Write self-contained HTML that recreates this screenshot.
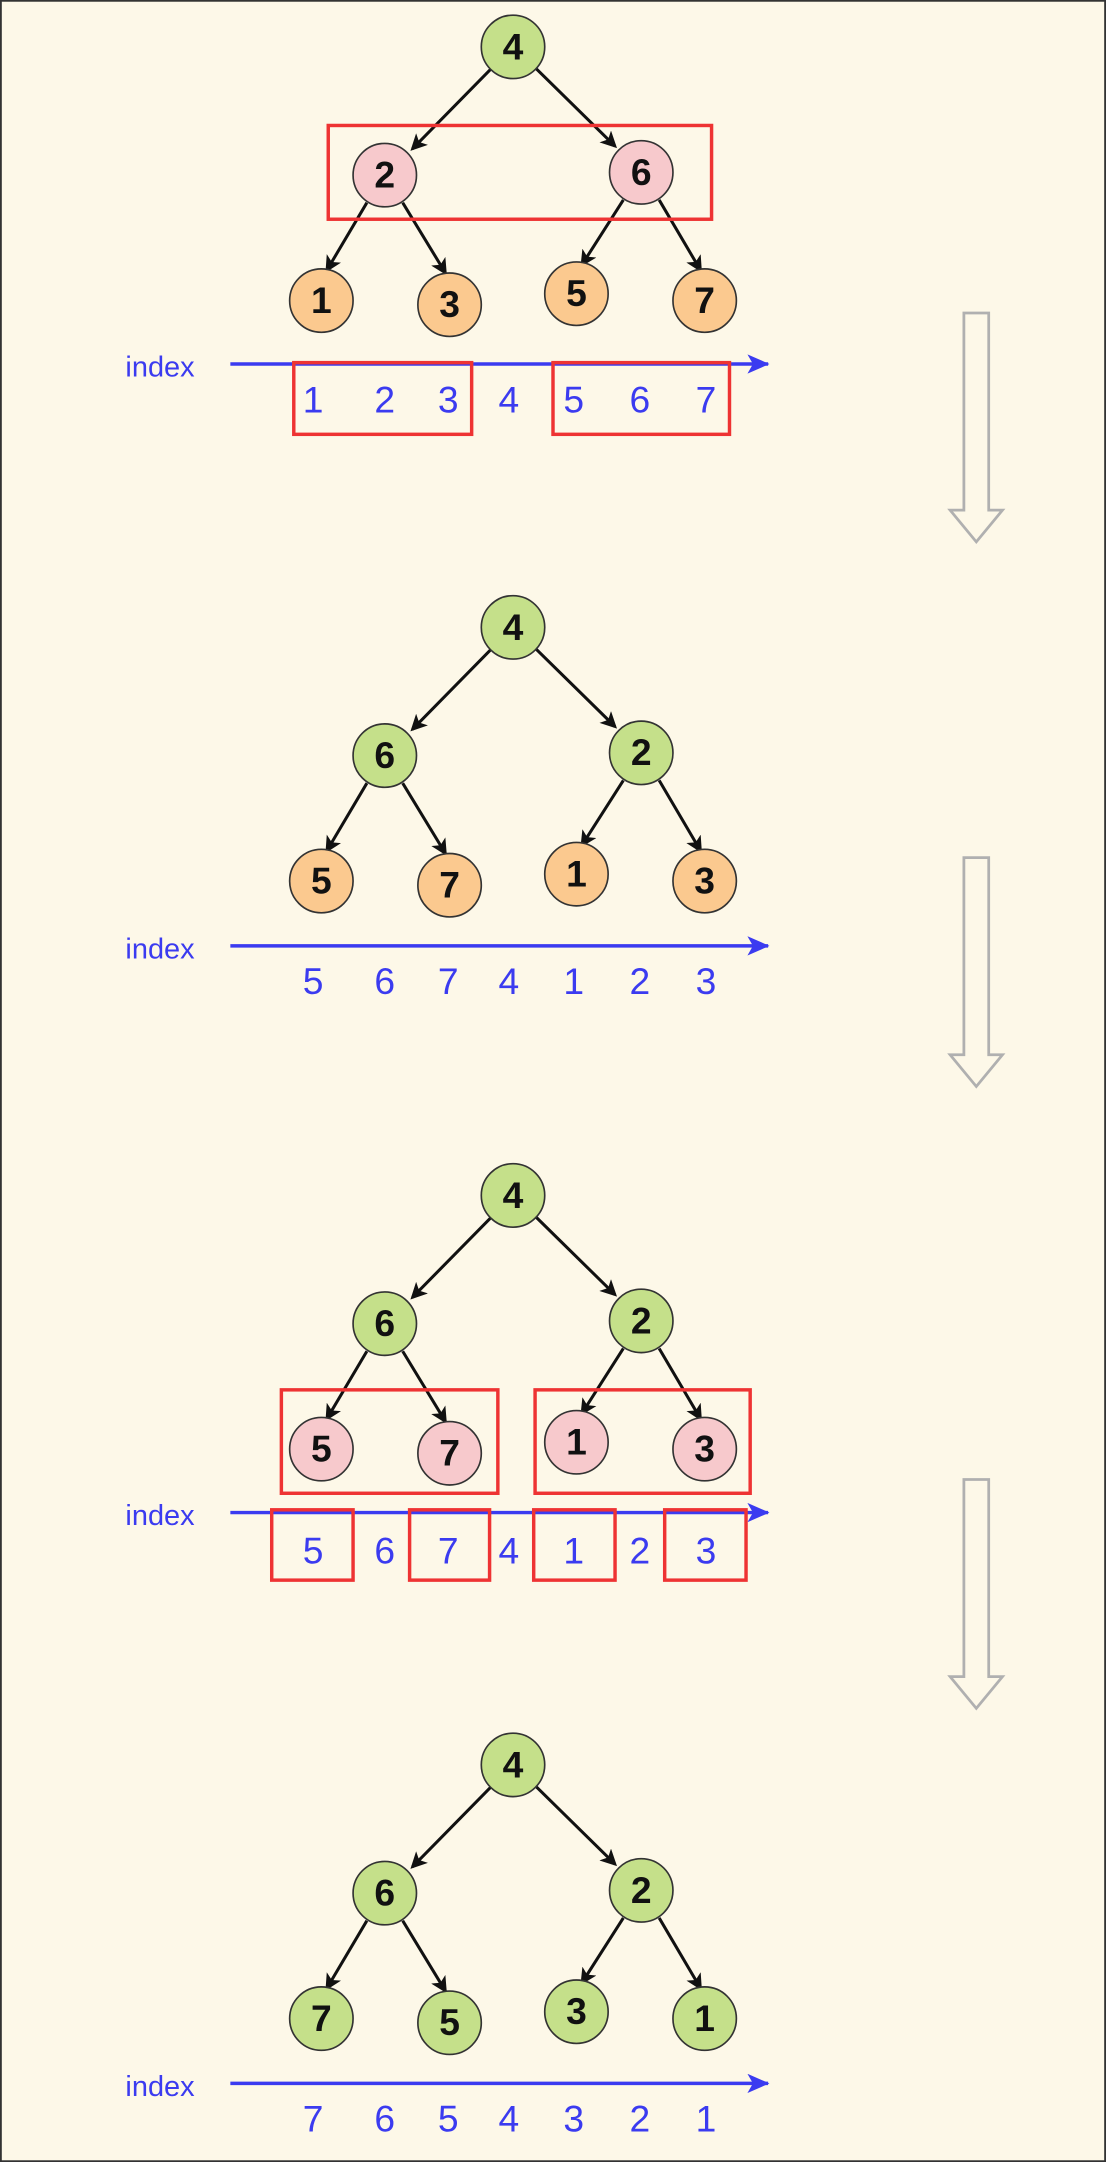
<!DOCTYPE html>
<html><head><meta charset="utf-8"><style>
html,body{margin:0;padding:0;background:#fdf8e8;}
svg{display:block;}
text{font-family:"Liberation Sans",sans-serif;}
</style></head><body>
<svg width="1106" height="2162" viewBox="0 0 802 1568" xmlns="http://www.w3.org/2000/svg">
<defs>
<marker id="ah" markerWidth="12" markerHeight="12" refX="10" refY="6" orient="auto" markerUnits="userSpaceOnUse"><path d="M0,0 L12,6 L0,12 L3,6 Z" fill="#111"/></marker>
<marker id="bh" markerWidth="16" markerHeight="14" refX="15" refY="7" orient="auto" markerUnits="userSpaceOnUse"><path d="M0,0 L16,7 L0,14 L4,7 Z" fill="#3b3bf0"/></marker>
<g id="edges" stroke="#111" stroke-width="2.2" fill="none">
<line x1="356" y1="50" x2="299" y2="108" marker-end="url(#ah)"/>
<line x1="389" y1="50" x2="446" y2="106" marker-end="url(#ah)"/>
<line x1="266" y1="147" x2="237" y2="196" marker-end="url(#ah)"/>
<line x1="292" y1="147" x2="323" y2="198" marker-end="url(#ah)"/>
<line x1="452" y1="145" x2="422" y2="192" marker-end="url(#ah)"/>
<line x1="478" y1="145" x2="508" y2="196" marker-end="url(#ah)"/>
</g>
<g id="darr" fill="none" stroke="#b0b0b0" stroke-width="2">
<path d="M699,0 L717,0 L717,143 L727,143 L708,166 L689,143 L699,143 Z"/>
</g>
</defs>
<rect x="0.5" y="0.5" width="801" height="1567" fill="#fdf8e8" stroke="#333" stroke-width="1.5"/>

<!-- Section 1 -->
<g>
<use href="#edges"/>
<g stroke="#333" stroke-width="1.2">
<circle cx="372" cy="34" r="23" fill="#c5e08a"/>
<circle cx="279" cy="127" r="23" fill="#f7c9cc"/>
<circle cx="465" cy="125" r="23" fill="#f7c9cc"/>
<circle cx="233" cy="218" r="23" fill="#fbc98f"/>
<circle cx="326" cy="221" r="23" fill="#fbc98f"/>
<circle cx="418" cy="213" r="23" fill="#fbc98f"/>
<circle cx="511" cy="218" r="23" fill="#fbc98f"/>
</g>
<g font-size="27" font-weight="bold" fill="#111" text-anchor="middle">
<text x="372" y="43">4</text><text x="279" y="136">2</text><text x="465" y="134">6</text>
<text x="233" y="227">1</text><text x="326" y="230">3</text><text x="418" y="222">5</text><text x="511" y="227">7</text>
</g>
<rect x="238" y="91" width="278" height="68" fill="none" stroke="#ee3333" stroke-width="2.5"/>
<line x1="167" y1="264" x2="557" y2="264" stroke="#3b3bf0" stroke-width="2.5" marker-end="url(#bh)"/>
<text x="116" y="273" font-size="21" fill="#3b3bf0" text-anchor="middle">index</text>
<g font-size="27" fill="#3b3bf0" text-anchor="middle">
<text x="227" y="299">1</text><text x="279" y="299">2</text><text x="325" y="299">3</text><text x="369" y="299">4</text><text x="416" y="299">5</text><text x="464" y="299">6</text><text x="512" y="299">7</text>
</g>
<rect x="213" y="263" width="129" height="52" fill="none" stroke="#ee3333" stroke-width="2.5"/>
<rect x="401" y="263" width="128" height="52" fill="none" stroke="#ee3333" stroke-width="2.5"/>
</g>
<use href="#darr" x="0" y="227"/>

<!-- Section 2 -->
<g transform="translate(0,421)">
<use href="#edges"/>
<g stroke="#333" stroke-width="1.2">
<circle cx="372" cy="34" r="23" fill="#c5e08a"/>
<circle cx="279" cy="127" r="23" fill="#c5e08a"/>
<circle cx="465" cy="125" r="23" fill="#c5e08a"/>
<circle cx="233" cy="218" r="23" fill="#fbc98f"/>
<circle cx="326" cy="221" r="23" fill="#fbc98f"/>
<circle cx="418" cy="213" r="23" fill="#fbc98f"/>
<circle cx="511" cy="218" r="23" fill="#fbc98f"/>
</g>
<g font-size="27" font-weight="bold" fill="#111" text-anchor="middle">
<text x="372" y="43">4</text><text x="279" y="136">6</text><text x="465" y="134">2</text>
<text x="233" y="227">5</text><text x="326" y="230">7</text><text x="418" y="222">1</text><text x="511" y="227">3</text>
</g>
<line x1="167" y1="265" x2="557" y2="265" stroke="#3b3bf0" stroke-width="2.5" marker-end="url(#bh)"/>
<text x="116" y="274" font-size="21" fill="#3b3bf0" text-anchor="middle">index</text>
<g font-size="27" fill="#3b3bf0" text-anchor="middle">
<text x="227" y="300">5</text><text x="279" y="300">6</text><text x="325" y="300">7</text><text x="369" y="300">4</text><text x="416" y="300">1</text><text x="464" y="300">2</text><text x="512" y="300">3</text>
</g>
</g>
<use href="#darr" x="0" y="622"/>

<!-- Section 3 -->
<g transform="translate(0,833)">
<use href="#edges"/>
<g stroke="#333" stroke-width="1.2">
<circle cx="372" cy="34" r="23" fill="#c5e08a"/>
<circle cx="279" cy="127" r="23" fill="#c5e08a"/>
<circle cx="465" cy="125" r="23" fill="#c5e08a"/>
<circle cx="233" cy="218" r="23" fill="#f7c9cc"/>
<circle cx="326" cy="221" r="23" fill="#f7c9cc"/>
<circle cx="418" cy="213" r="23" fill="#f7c9cc"/>
<circle cx="511" cy="218" r="23" fill="#f7c9cc"/>
</g>
<g font-size="27" font-weight="bold" fill="#111" text-anchor="middle">
<text x="372" y="43">4</text><text x="279" y="136">6</text><text x="465" y="134">2</text>
<text x="233" y="227">5</text><text x="326" y="230">7</text><text x="418" y="222">1</text><text x="511" y="227">3</text>
</g>
<rect x="204" y="175" width="157" height="75" fill="none" stroke="#ee3333" stroke-width="2.5"/>
<rect x="388" y="175" width="156" height="75" fill="none" stroke="#ee3333" stroke-width="2.5"/>
<line x1="167" y1="264" x2="557" y2="264" stroke="#3b3bf0" stroke-width="2.5" marker-end="url(#bh)"/>
<text x="116" y="273" font-size="21" fill="#3b3bf0" text-anchor="middle">index</text>
<g font-size="27" fill="#3b3bf0" text-anchor="middle">
<text x="227" y="301">5</text><text x="279" y="301">6</text><text x="325" y="301">7</text><text x="369" y="301">4</text><text x="416" y="301">1</text><text x="464" y="301">2</text><text x="512" y="301">3</text>
</g>
<g fill="none" stroke="#ee3333" stroke-width="2.5">
<rect x="197" y="262" width="59" height="51"/>
<rect x="297" y="262" width="58" height="51"/>
<rect x="387" y="262" width="59" height="51"/>
<rect x="482" y="262" width="59" height="51"/>
</g>
</g>
<use href="#darr" x="0" y="1073"/>

<!-- Section 4 -->
<g transform="translate(0,1246)">
<use href="#edges"/>
<g stroke="#333" stroke-width="1.2" fill="#c5e08a">
<circle cx="372" cy="34" r="23"/>
<circle cx="279" cy="127" r="23"/>
<circle cx="465" cy="125" r="23"/>
<circle cx="233" cy="218" r="23"/>
<circle cx="326" cy="221" r="23"/>
<circle cx="418" cy="213" r="23"/>
<circle cx="511" cy="218" r="23"/>
</g>
<g font-size="27" font-weight="bold" fill="#111" text-anchor="middle">
<text x="372" y="43">4</text><text x="279" y="136">6</text><text x="465" y="134">2</text>
<text x="233" y="227">7</text><text x="326" y="230">5</text><text x="418" y="222">3</text><text x="511" y="227">1</text>
</g>
<line x1="167" y1="265" x2="557" y2="265" stroke="#3b3bf0" stroke-width="2.5" marker-end="url(#bh)"/>
<text x="116" y="274" font-size="21" fill="#3b3bf0" text-anchor="middle">index</text>
<g font-size="27" fill="#3b3bf0" text-anchor="middle">
<text x="227" y="300">7</text><text x="279" y="300">6</text><text x="325" y="300">5</text><text x="369" y="300">4</text><text x="416" y="300">3</text><text x="464" y="300">2</text><text x="512" y="300">1</text>
</g>
</g>
</svg>
</body></html>
